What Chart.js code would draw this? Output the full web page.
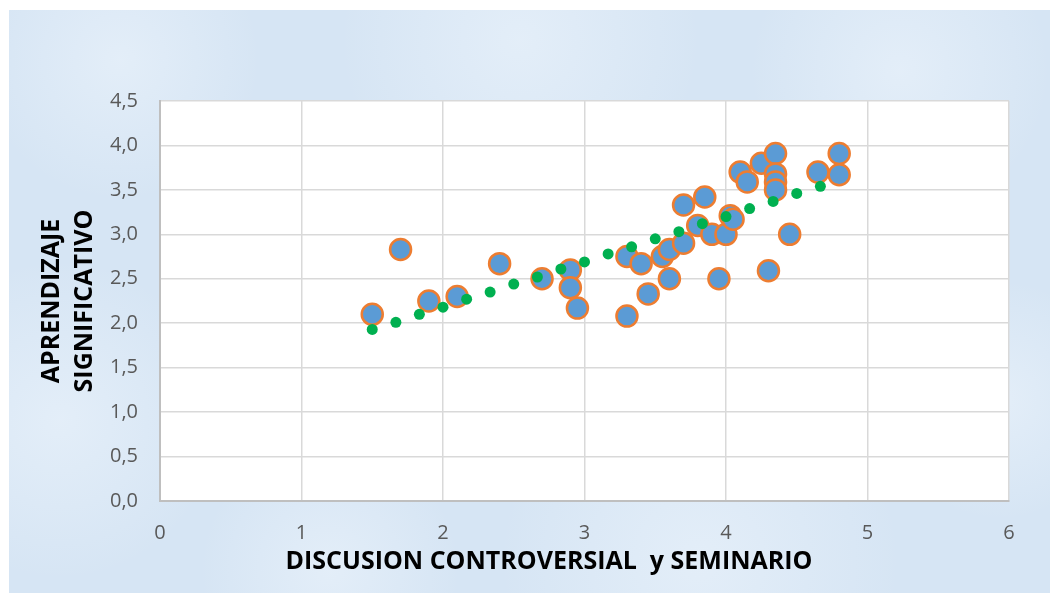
<!DOCTYPE html>
<html>
<head>
<meta charset="utf-8">
<script src="https://cdn.jsdelivr.net/npm/chart.js@4/dist/chart.umd.min.js"></script>
<style>
  html, body { margin: 0; padding: 0; background: #fff; }
  #wrap { width: 1050px; height: 593px; }
</style>
</head>
<body>
<div id="wrap"><canvas id="chart" width="1050" height="593"></canvas></div>
<script>
// observed points: DISCUSION CONTROVERSIAL y SEMINARIO (x) vs APRENDIZAJE SIGNIFICATIVO (y)
const discusion = [1.5, 1.7, 1.9, 2.1, 2.4, 2.7, 2.9, 2.9, 2.95, 3.3, 3.3, 3.4, 3.45, 3.55, 3.6, 3.6, 3.7, 3.7,
  3.8, 3.85, 3.9, 3.95, 4.0, 4.03, 4.05, 4.1, 4.15, 4.25, 4.3, 4.35, 4.35, 4.35, 4.35, 4.45, 4.65, 4.8, 4.8];
const aprendizaje = [2.1, 2.83, 2.25, 2.3, 2.67, 2.5, 2.6, 2.4, 2.17, 2.75, 2.08, 2.67, 2.33, 2.75, 2.83, 2.5, 2.9, 3.33,
  3.1, 3.42, 3.0, 2.5, 3.0, 3.21, 3.17, 3.7, 3.59, 3.8, 2.59, 3.91, 3.68, 3.59, 3.5, 3.0, 3.7, 3.91, 3.67];

// green dotted trend line
const trendX = [1.5, 1.667, 1.833, 2.0, 2.167, 2.333, 2.5, 2.667, 2.833, 3.0,
  3.167, 3.333, 3.5, 3.667, 3.833, 4.0, 4.167, 4.333, 4.5, 4.667];
const trendY = [1.93, 2.01, 2.1, 2.18, 2.27, 2.35, 2.44, 2.52, 2.61, 2.69,
  2.78, 2.86, 2.95, 3.03, 3.12, 3.2, 3.29, 3.37, 3.46, 3.54];

const xTicks = ['0', '1', '2', '3', '4', '5', '6'];
const yTicks = ['0,0', '0,5', '1,0', '1,5', '2,0', '2,5', '3,0', '3,5', '4,0', '4,5'];

const xTitle = 'DISCUSION CONTROVERSIAL  y SEMINARIO';
const yTitle = ['APRENDIZAJE', 'SIGNIFICATIVO'];

const backdrop = {
  id: 'backdrop',
  beforeDraw(chart) {
    const { ctx, chartArea: a } = chart;
    ctx.save();
    ctx.fillStyle = '#ffffff';
    ctx.fillRect(0, 0, chart.width, chart.height);
    ctx.fillStyle = '#d6e5f4';
    ctx.fillRect(9, 10, chart.width - 9, chart.height - 10);
    // soft lighter patches to hint at the paper texture
    [[120, 60, 140], [520, 40, 180], [900, 70, 150], [60, 420, 160], [700, 560, 200], [1000, 400, 120], [330, 570, 130]].forEach(([x, y, r]) => {
      const g = ctx.createRadialGradient(x, y, 0, x, y, r);
      g.addColorStop(0, 'rgba(238,245,252,0.55)');
      g.addColorStop(1, 'rgba(238,245,252,0)');
      ctx.fillStyle = g;
      ctx.fillRect(9, 10, chart.width - 9, chart.height - 10);
    });
    ctx.fillStyle = '#ffffff';
    ctx.fillRect(a.left, a.top, a.right - a.left, a.bottom - a.top);
    ctx.restore();
  },
  afterDraw(chart) {
    const { ctx } = chart;
    ctx.save();
    ctx.font = 'bold 25px "Open Sans", sans-serif';
    ctx.fillStyle = '#000000';
    ctx.textAlign = 'center';
    ctx.textBaseline = 'middle';
    ctx.fillText(xTitle, 549, 562);
    ctx.restore();
  }
};

new Chart(document.getElementById('chart'), {
  type: 'scatter',
  data: {
    datasets: [
      {
        label: 'Tendencia',
        data: trendX.map((x, i) => ({ x, y: trendY[i] })),
        pointRadius: 5.5,
        pointHoverRadius: 5.5,
        pointBackgroundColor: '#00b050',
        pointBorderWidth: 0,
        order: 0
      },
      {
        label: 'Aprendizaje',
        data: discusion.map((x, i) => ({ x, y: aprendizaje[i] })),
        pointRadius: 10.5,
        pointHoverRadius: 10.5,
        pointBackgroundColor: '#5b9bd5',
        pointBorderColor: '#ed7d31',
        pointBorderWidth: 2.5,
        order: 1
      }
    ]
  },
  options: {
    responsive: false,
    animation: false,
    layout: { padding: { top: 101, right: 41, bottom: 0, left: 0 } },
    plugins: { legend: { display: false }, tooltip: { enabled: false } },
    scales: {
      x: {
        type: 'linear',
        min: 0, max: 6,
        afterFit: s => { s.height = 92; },
        ticks: {
          stepSize: 1,
          padding: 20,
          color: '#595959',
          font: { family: '"Open Sans", sans-serif', size: 20 },
          callback: (v, i) => xTicks[i]
        },
        grid: { color: '#d9d9d9', lineWidth: 1.5, drawTicks: false },
        border: { color: '#bfbfbf', width: 2 }
      },
      y: {
        type: 'linear',
        min: 0, max: 4.5,
        afterFit: s => { s.width = 160; },
        ticks: {
          stepSize: 0.5,
          padding: 22,
          color: '#595959',
          font: { family: '"Open Sans", sans-serif', size: 20 },
          callback: (v, i) => yTicks[i]
        },
        grid: { color: '#d9d9d9', lineWidth: 1.5, drawTicks: false },
        border: { color: '#bfbfbf', width: 2 },
        title: {
          display: true,
          text: yTitle,
          color: '#000000',
          padding: { top: 35.5, bottom: 0 },
          font: { family: '"Open Sans", sans-serif', size: 25, weight: 'bold', lineHeight: '33px' }
        }
      }
    }
  },
  plugins: [backdrop]
});
</script>
</body>
</html>
